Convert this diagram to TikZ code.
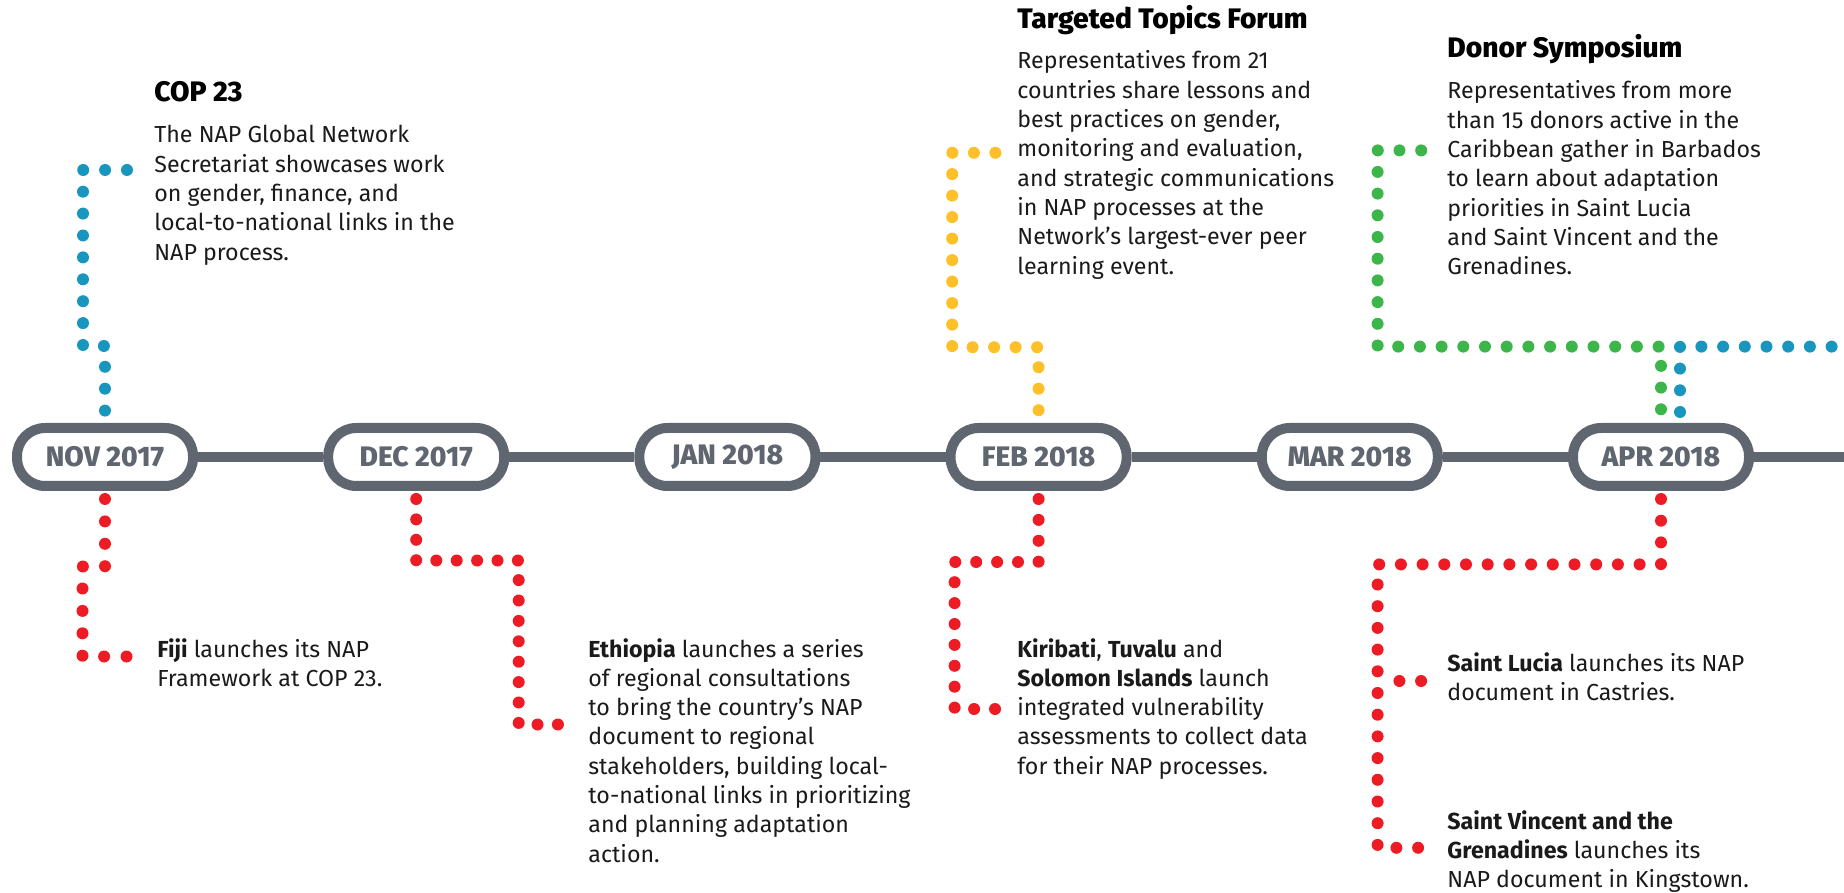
\documentclass[tikz,border=0pt]{standalone}
\usepackage{fontspec}
\setmainfont{Fira Sans}
\newfontfamily\heavyfont{Fira Sans ExtraBold}
\usetikzlibrary{positioning, calc}
\definecolor{railgrey}{RGB}{96,102,112}
\definecolor{dotred}{RGB}{237,28,36}
\definecolor{dotblue}{RGB}{24,150,190}
\definecolor{dotyellow}{RGB}{253,192,40}
\definecolor{dotgreen}{RGB}{60,182,74}
\definecolor{ink}{RGB}{26,26,26}

\begin{document}
\begin{tikzpicture}[x=0.5pt, y=-0.5pt,
    node distance=62.6pt,
    month/.style={rectangle, draw=railgrey, line width=5pt, fill=white, rounded corners=14pt, minimum width=88pt, minimum height=29pt, inner sep=0pt, text=railgrey, font=\fontsize{14.1}{16}\heavyfont},
    rail/.style={draw=railgrey, line width=5pt},
    dots/.style={line width=6pt, line cap=round},
    head/.style={anchor=base west, inner sep=0pt, font=\fontsize{14.1}{16}\heavyfont, text=black},
    body/.style={anchor=base west, inner sep=0pt, align=left, font=\fontsize{11.6}{14.65}\selectfont, text=ink}
]
\useasboundingbox (0,0) rectangle (1844,893);

% Timeline: months
\node[month] (nov) at (105,457) {NOV 2017};
\node[month, right=of nov] (dec) {DEC 2017};
\node[month, right=of dec] (jan) {JAN 2018};
\node[month, right=of jan] (feb) {FEB 2018};
\node[month, right=of feb] (mar) {MAR 2018};
\node[month, right=of mar] (apr) {APR 2018};
\coordinate (railend) at (1844,457);
\draw[rail] (nov) -- (dec) -- (jan) -- (feb) -- (mar) -- (apr) -- (railend);

% Above the line (body nodes sit on the baseline of their last line)
\node[head] (copttl) at (154,102) {COP 23};
\node[body] (cop) at (154,260.2) {The NAP Global Network\\Secretariat showcases work\\on gender, finance, and\\local-to-national links in the\\NAP process.};

\node[head] (ttfttl) at (1017,29) {Targeted Topics Forum};
\node[body] (ttf) at (1017,274.1) {Representatives from 21\\countries share lessons and\\best practices on gender,\\monitoring and evaluation,\\and strategic communications\\in NAP processes at the\\Network’s largest-ever peer\\learning event.};

\node[head] (donttl) at (1447,58) {Donor Symposium};
\node[body] (don) at (1447,274.8) {Representatives from more\\than 15 donors active in the\\Caribbean gather in Barbados\\to learn about adaptation\\priorities in Saint Lucia\\and Saint Vincent and the\\Grenadines.};

% Below the line
\node[body] (fiji) at (157,686.3) {\textbf{Fiji} launches its NAP\\Framework at COP 23.};
\node[body] (eth) at (588,862.1) {\textbf{Ethiopia} launches a series\\of regional consultations\\to bring the country’s NAP\\document to regional\\stakeholders, building local-\\to-national links in prioritizing\\and planning adaptation\\action.};
\node[body] (kir) at (1017,774.2) {\textbf{Kiribati}, \textbf{Tuvalu} and\\\textbf{Solomon Islands} launch\\integrated vulnerability\\assessments to collect data\\for their NAP processes.};
\node[body] (lucia) at (1447,700.3) {\textbf{Saint Lucia} launches its NAP\\document in Castries.};
\node[body] (svg) at (1447,887.6) {\textbf{Saint Vincent and the}\\\textbf{Grenadines} launches its\\NAP document in Kingstown.};

% Dotted connectors
\coordinate (copdot) at (127,170);
\draw[dots, dotblue, dash pattern=on 0pt off 10.95pt] (copdot) -| (83,346) -| ($(nov.north)+(0,-11)$);

\coordinate (fijidot) at (127.5,656.5);
\draw[dots, dotred, dash pattern=on 0pt off 11.2pt] ($(nov.south)+(0,8)$) |- (82.5,566.5) |- (fijidot);

\coordinate (ethdot) at (559.5,724.5);
\draw[dots, dotred, dash pattern=on 0pt off 10.2pt] ($(dec.south)+(0,8)$) |- (518.7,560.5) |- (ethdot);

\coordinate (ttfdot) at (995.4,152.8);
\draw[dots, dotyellow, dash pattern=on 0pt off 10.75pt] (ttfdot) -| (952.2,347.2) -| ($(feb.north)+(0,-11)$);

\coordinate (kirdot) at (996.6,709);
\draw[dots, dotred, dash pattern=on 0pt off 10.45pt] ($(feb.south)+(0,8)$) |- (954.6,562) |- (kirdot);

\coordinate (dondot) at (1421.2,150.4);
\draw[dots, dotgreen, dash pattern=on 0pt off 10.85pt] (dondot) -| (1377.6,346.6) -| ($(apr.north)+(0,-11)$);

\coordinate (bluecut) at (1832.6,346.6);
\draw[dots, dotblue, dash pattern=on 0pt off 10.85pt] ($(apr.north)+(19,-11)$) |- (bluecut);

\coordinate (svgdot) at (1421.2,847.8);
\draw[dots, dotred, dash pattern=on 0pt off 10.85pt] ($(apr.south)+(0,8)$) |- (1377.6,564.4) |- (svgdot);

\coordinate (luciadot) at (1421.2,681);
\draw[dots, dotred, dash pattern=on 0pt off 10.85pt] ($(luciadot)+(-21.8,0)$) -- (luciadot);

\end{tikzpicture}
\end{document}
